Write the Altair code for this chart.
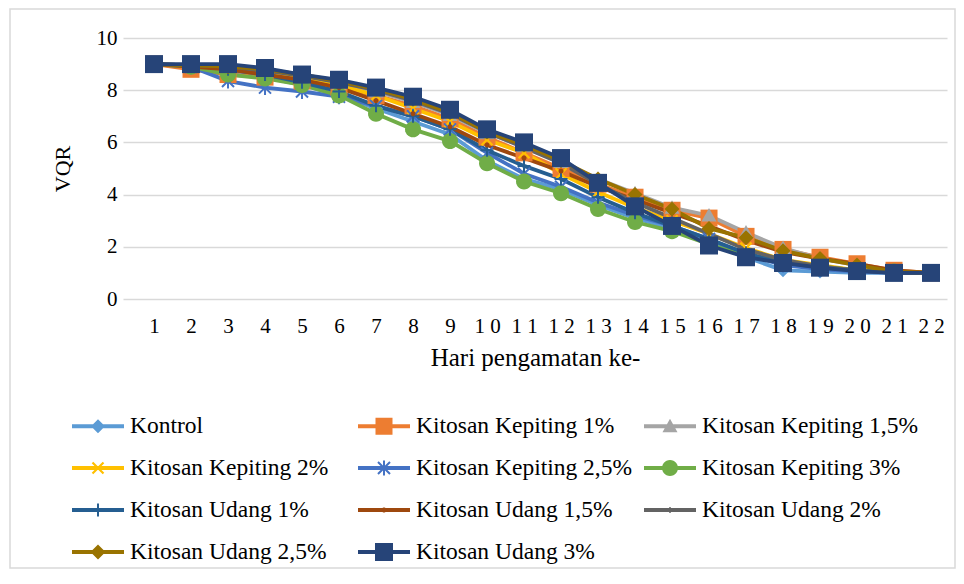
import math
import altair as alt
import pandas as pd

# ---------------- data ----------------
DAYS = list(range(1, 23))

SERIES = [
    "Kontrol",
    "Kitosan Kepiting 1%",
    "Kitosan Kepiting 1,5%",
    "Kitosan Kepiting 2%",
    "Kitosan Kepiting 2,5%",
    "Kitosan Kepiting 3%",
    "Kitosan Udang 1%",
    "Kitosan Udang 1,5%",
    "Kitosan Udang 2%",
    "Kitosan Udang 2,5%",
    "Kitosan Udang 3%",
]

KONTROL = [9, 8.9, 8.7, 8.5, 8.2, 7.8, 7.3, 6.8, 6.3, 5.3, 4.6, 4.2, 3.6, 3.1, 2.7, 2.2, 1.6, 1.1, 1.05, 1.0, 1.0, 1.0]
KEPITING_1 = [9, 8.8, 8.6, 8.5, 8.35, 8.1, 7.8, 7.4, 6.9, 6.2, 5.6, 5.0, 4.4, 3.9, 3.4, 3.1, 2.4, 1.9, 1.6, 1.35, 1.1, 1.0]
KEPITING_15 = [9, 8.9, 8.8, 8.65, 8.45, 8.25, 7.95, 7.55, 7.05, 6.35, 5.85, 5.25, 4.6, 4.05, 3.5, 3.2, 2.55, 1.95, 1.55, 1.3, 1.05, 1.0]
KEPITING_2 = [9, 8.9, 8.8, 8.65, 8.45, 8.2, 7.8, 7.3, 6.8, 6.1, 5.6, 4.8, 4.1, 3.5, 3.0, 2.5, 1.95, 1.5, 1.3, 1.1, 1.0, 1.0]
KEPITING_25 = [9, 8.9, 8.35, 8.1, 7.95, 7.75, 7.4, 7.0, 6.5, 5.6, 4.8, 4.3, 3.7, 3.2, 2.8, 2.3, 1.7, 1.3, 1.15, 1.05, 1.0, 1.0]
KEPITING_3 = [9, 8.9, 8.6, 8.45, 8.2, 7.8, 7.1, 6.5, 6.05, 5.2, 4.5, 4.05, 3.45, 2.95, 2.6, 2.1, 1.65, 1.45, 1.25, 1.1, 1.05, 1.0]
UDANG_1 = [9, 8.95, 8.8, 8.6, 8.3, 7.95, 7.4, 7.0, 6.5, 5.7, 5.1, 4.6, 3.9, 3.3, 2.8, 2.3, 1.75, 1.4, 1.2, 1.1, 1.0, 1.0]
UDANG_15 = [9, 8.9, 8.8, 8.6, 8.4, 8.1, 7.6, 7.1, 6.6, 5.9, 5.4, 4.9, 4.3, 3.8, 3.3, 2.8, 2.25, 1.8, 1.55, 1.35, 1.1, 1.0]
UDANG_2 = [9, 8.95, 8.9, 8.75, 8.55, 8.3, 8.0, 7.6, 7.1, 6.4, 5.8, 5.2, 4.4, 3.7, 3.1, 2.5, 1.9, 1.5, 1.25, 1.1, 1.0, 1.0]
UDANG_25 = [9, 8.95, 8.9, 8.8, 8.6, 8.35, 8.05, 7.65, 7.15, 6.4, 5.9, 5.3, 4.6, 4.0, 3.45, 2.7, 2.35, 1.85, 1.55, 1.3, 1.05, 1.0]
UDANG_3 = [9, 9, 9, 8.85, 8.6, 8.4, 8.1, 7.75, 7.25, 6.5, 6.0, 5.4, 4.45, 3.55, 2.8, 2.05, 1.6, 1.38, 1.2, 1.07, 1.0, 1.0]

VALUES = [KONTROL, KEPITING_1, KEPITING_15, KEPITING_2, KEPITING_25, KEPITING_3,
          UDANG_1, UDANG_15, UDANG_2, UDANG_25, UDANG_3]

Y_TICKS = [0, 2, 4, 6, 8, 10]

# ---------------- style ----------------
COLORS = ["#5B9BD5", "#ED7D31", "#A5A5A5", "#FFC000", "#4472C4", "#70AD47",
          "#255E91", "#9E480E", "#636363", "#997300", "#264478"]

FONT = "Liberation Serif"
SYM_SIZE = 2704          # custom path unit = sqrt(size)/2 = 26 px
U = math.sqrt(SYM_SIZE) / 2


def poly(pts):
    area = sum(pts[i][0] * pts[(i + 1) % len(pts)][1] - pts[(i + 1) % len(pts)][0] * pts[i][1]
               for i in range(len(pts)))
    if area < 0:
        pts = pts[::-1]
    return "M" + "L".join(f"{x / U:.4f},{y / U:.4f}" for x, y in pts) + "Z"


def seg(ax, ay, bx, by, w):
    dx, dy = bx - ax, by - ay
    L = math.hypot(dx, dy)
    nx, ny = -dy / L * w / 2, dx / L * w / 2
    return poly([(ax + nx, ay + ny), (bx + nx, by + ny), (bx - nx, by - ny), (ax - nx, ay - ny)])


def square(h):
    return poly([(-h, -h), (h, -h), (h, h), (-h, h)])


def diamond(h):
    return poly([(0, -h), (h, 0), (0, h), (-h, 0)])


def triangle(h):
    return poly([(0, -h), (h, 0.8 * h), (-h, 0.8 * h)])


def circle(r):
    return poly([(r * math.cos(2 * math.pi * k / 28), r * math.sin(2 * math.pi * k / 28)) for k in range(28)])


def xmark(h, w):
    return seg(-h, -h, h, h, w) + seg(-h, h, h, -h, w)


def asterisk(h, w):
    return xmark(h, w) + seg(0, -h * 1.25, 0, h * 1.25, w)


def plus(h, w):
    return seg(-h, 0, h, 0, w) + seg(0, -h, 0, h, w)


MARKERS = [
    diamond(7), square(8.5), triangle(7.5), xmark(5.5, 2.2), asterisk(6, 2),
    circle(8), plus(6.5, 2), circle(2.5), plus(3, 1.5), diamond(7.5), square(9),
]
BAR = seg(-26, 0, 26, 0, 4)
LEGEND_SYMBOLS = [BAR + m for m in MARKERS]

rows = []
for s, c, m, vals in zip(SERIES, COLORS, MARKERS, VALUES):
    for d, v in zip(DAYS, vals):
        rows.append({"series": s, "day": d, "vqr": v, "hex": c, "mpath": m})
df = pd.DataFrame(rows)

x_scale = alt.Scale(type="point", domain=DAYS, padding=0.635, align=0.66)
x_enc = alt.X(
    "day:O",
    scale=x_scale,
    axis=alt.Axis(
        grid=False, domain=False, ticks=False, tickSize=0, labelAngle=0,
        labelFont=FONT, labelFontSize=21, labelColor="#000000", labelPadding=16,
        labelExpr="length(datum.label) > 1 ? slice(datum.label, 0, 1) + ' ' + slice(datum.label, 1) : datum.label",
        labelOverlap=False, labelFlush=False,
        title="Hari pengamatan ke-", titleFont=FONT, titleFontSize=25, titleFontWeight="normal",
        titleColor="#000000", titlePadding=9,
    ),
)
y_enc = alt.Y(
    "vqr:Q",
    scale=alt.Scale(domain=[0, 10], nice=False),
    axis=alt.Axis(
        values=Y_TICKS, grid=True, gridColor="#D9D9D9", gridWidth=1.5, domain=False,
        ticks=False, tickSize=0, labelFont=FONT, labelFontSize=21, labelColor="#000000",
        labelPadding=6, title="VQR", titleFont=FONT, titleFontSize=22,
        titleFontWeight="normal", titleColor="#000000", titlePadding=22,
    ),
)

base = alt.Chart(df)

lines = base.mark_line(strokeWidth=3.8).encode(
    x=x_enc, y=y_enc,
    color=alt.Color("hex:N", scale=None),
    detail="series:N",
)

points = base.mark_point(filled=True, size=SYM_SIZE, strokeWidth=0, opacity=1).encode(
    x="day:O", y="vqr:Q",
    color=alt.Color("hex:N", scale=None),
    shape=alt.Shape("mpath:N", scale=None),
)

leg = alt.Legend(
    title=None, orient="none", legendX=-51, legendY=362, columns=3, direction="horizontal",
    gridAlign="all", columnPadding=11, rowPadding=4, padding=0,
    labelFont=FONT, labelFontSize=23.5, labelColor="#000000", labelOffset=6, labelLimit=400,
    symbolSize=SYM_SIZE, symbolStrokeWidth=0, symbolOpacity=1,
)

carrier = base.mark_point(filled=True, size=SYM_SIZE, opacity=0).encode(
    color=alt.Color("series:N", scale=alt.Scale(domain=SERIES, range=COLORS), sort=SERIES, legend=leg),
    shape=alt.Shape("series:N", scale=alt.Scale(domain=SERIES, range=LEGEND_SYMBOLS), sort=SERIES, legend=leg),
)

border = alt.Chart(alt.Data(values=[{"k": 1}])).mark_rect(
    fill=None, stroke="#D9D9D9", strokeWidth=1.5
).encode(
    x=alt.value(-113), x2=alt.value(832), y=alt.value(-29), y2=alt.value(530)
)

chart = alt.layer(border, lines, points, carrier).properties(
    width=824, height=261,
    padding={"left": 115, "top": 30, "right": 9, "bottom": 270},
    autosize=alt.AutoSizeParams(type="none"),
    background="#FFFFFF",
).configure_view(stroke=None)

chart.save("out.html", embed_options={"renderer": "svg", "actions": False})
